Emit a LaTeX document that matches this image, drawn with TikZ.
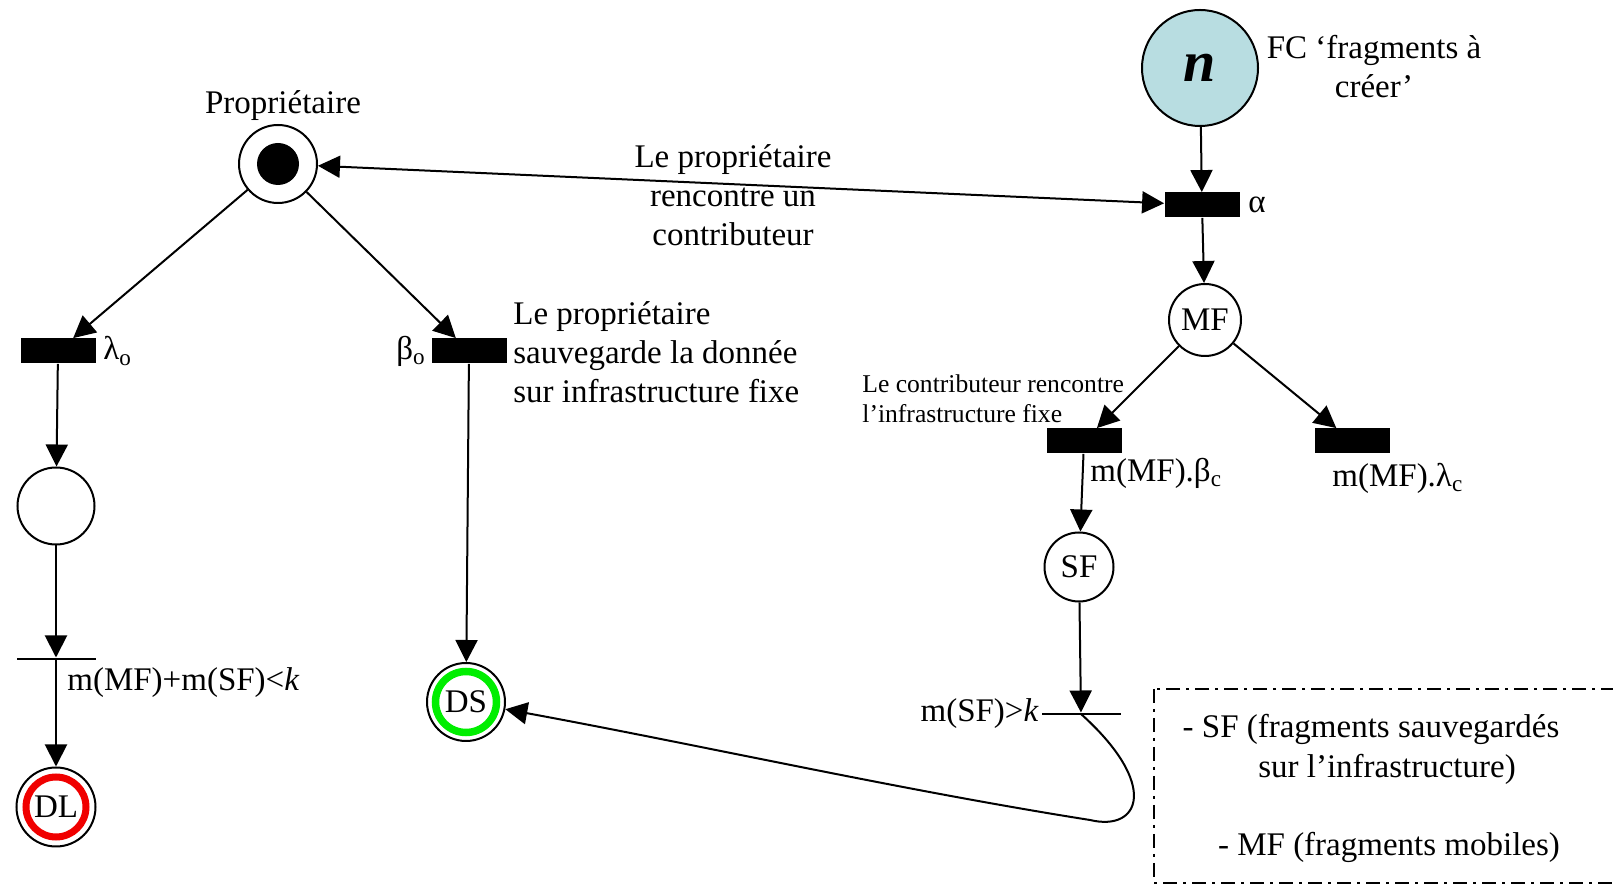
\documentclass[tikz,border=0pt]{standalone}
\usepackage{fontspec}
\setmainfont{Liberation Serif}
\usetikzlibrary{arrows.meta, positioning}
\definecolor{fcblue}{RGB}{184,221,225}
\definecolor{dlred}{RGB}{240,0,0}
\definecolor{dsgreen}{RGB}{0,238,0}

\tikzset{
  place/.style={circle, draw, line width=1pt, minimum size=38pt, inner sep=0pt},
  trans/.style={rectangle, fill=black, minimum width=37.5pt, minimum height=12.5pt, inner sep=0pt},
  bar/.style={rectangle, fill=black, minimum width=39.5pt, minimum height=1.1pt, inner sep=0pt},
  arc/.style={-{Triangle[length=11pt,width=11pt]}, line width=1pt},
  biarc/.style={{Triangle[length=11pt,width=11pt]}-{Triangle[length=11pt,width=11pt]}, line width=1pt},
  txt/.style={font=\fontsize{16.5}{19.5}\selectfont, inner sep=0pt},
  smalltxt/.style={font=\fontsize{12.8}{15}\selectfont, inner sep=0pt},
}

\begin{document}
\begin{tikzpicture}[x=0.5pt, y=-0.5pt]
\useasboundingbox (0,0) rectangle (1613,886);
\clip (0,0) rectangle (1613,886);

% places
\node[place, minimum size=39pt] (prop) at (278,164) {};
\fill (prop) circle[radius=10.5pt];
\node[txt] (proplab) at (283,106) {Propriétaire};
\node[place, minimum size=58pt, fill=fcblue] (fc) at (1200,68) {\fontsize{29}{29}\selectfont\bfseries\itshape n};
\node[txt, align=center] (fclab) at (1374,67) {FC ‘fragments à\\créer’};
\node[place, minimum size=36pt, txt] (mf) at (1205,320) {MF};
\node[place, minimum size=38.5pt] (p1) at (56,506) {};
\node[place, minimum size=39.5pt, txt] (dl) at (56,807) {DL};
\draw[dlred, line width=3.5pt] (dl) circle[radius=15pt];
\node[place, minimum size=39pt, txt] (ds) at (466,702) {DS};
\draw[dsgreen, line width=3.75pt] (ds) circle[radius=15.25pt];
\node[place, minimum size=34.5pt, txt] (sf) at (1079,567) {SF};

% transitions
\node[trans] (alpha) at (1202,205) {};
\node[txt, right=4pt of alpha] (alab) {α};
\node[trans] (lo) at (58,351) {};
\node[txt, right=3.5pt of lo] (lolab) {λ\textsubscript{o}};
\node[trans] (bo) at (469,351) {};
\node[txt, left=2.5pt of bo] (bolab) {β\textsubscript{o}};
\node[trans] (bc) at (1084,441) {};
\node[txt, anchor=west] (bclab) at (1090,473) {m(MF).β\textsubscript{c}};
\node[trans] (lc) at (1352,441) {};
\node[txt, anchor=west] (lclab) at (1332,478) {m(MF).λ\textsubscript{c}};
\node[bar] (t1) at (56,659) {};
\node[txt, anchor=west] (t1lab) at (67,683) {m(MF)+m(SF)<\textit{k}};
\node[bar] (t3) at (1081,714) {};
\node[txt, left=1pt of t3] (t3lab) {m(SF)>\textit{k}};

% texts
\node[txt, align=center] (meet) at (733,195) {Le propriétaire\\rencontre un\\contributeur};
\node[txt, align=left, anchor=west] (save) at (513,352) {Le propriétaire\\sauvegarde la donnée\\sur infrastructure fixe};
\node[smalltxt, align=left, anchor=west] (cmeet) at (862,399) {Le contributeur rencontre\\l’infrastructure fixe};

% arcs
\draw[biarc] (prop) -- (alpha);
\draw[arc] (prop) -- (lo);
\draw[arc] (prop) -- (bo);
\draw[arc] (lo) -- (p1);
\draw[arc] (p1) -- (t1);
\draw[arc] (t1) -- (dl);
\draw[arc] (bo) -- (ds);
\draw[arc] (fc) -- (alpha);
\draw[arc] (alpha) -- (mf);
\draw[arc] (mf) -- (bc);
\draw[arc] (mf) -- (lc);
\draw[arc] (bc) -- (sf);
\draw[arc] (sf) -- (t3);
\draw[arc] (t3.center) .. controls (1160,785) and (1140,832) .. (1090,820)
  .. controls (900,790) and (700,745) .. (ds);

% legend
\draw[line width=0.9pt, dash pattern=on 7pt off 3pt on 1.5pt off 3pt] (1154,689) rectangle (1640,883);
\node[txt] (leg1) at (1371,729) {- SF (fragments sauvegardés};
\node[txt] (leg2) at (1387,769) {sur l’infrastructure)};
\node[txt] (leg3) at (1389,847) {- MF (fragments mobiles)};
\end{tikzpicture}
\end{document}
